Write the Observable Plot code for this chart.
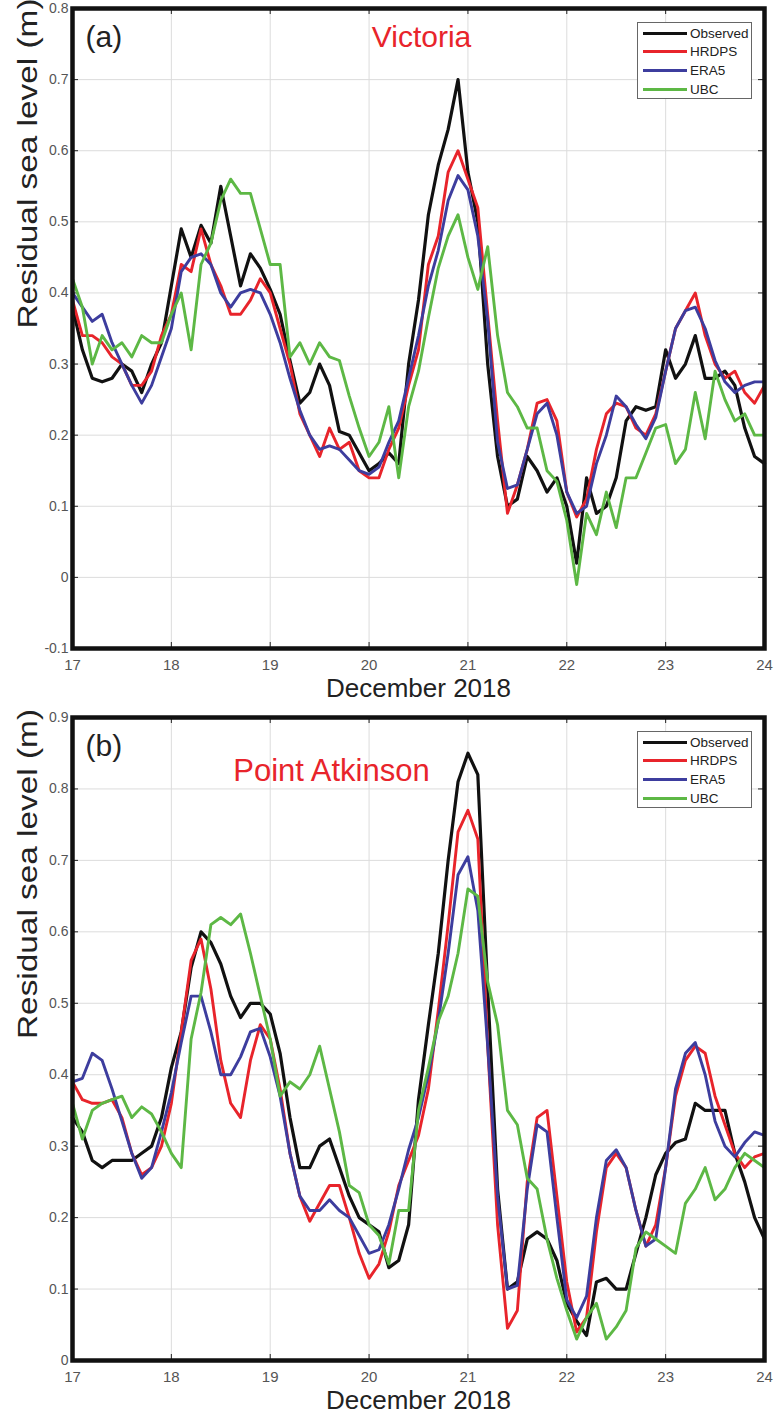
<!DOCTYPE html>
<html>
<head>
<meta charset="utf-8">
<script src="https://cdn.jsdelivr.net/npm/d3@7"></script>
<script src="https://cdn.jsdelivr.net/npm/@observablehq/plot@0.6"></script>
<style>
  html, body { margin: 0; padding: 0; background: #fff; }
  #chart { position: relative; width: 778px; height: 1414px; overflow: hidden; }
  .panel { position: relative; width: 778px; height: 707px; }
  .panel svg { display: block; }
  .legend { position: absolute; left: 637px; width: 115px; box-sizing: border-box;
            border: 1px solid #666; background: #fff; padding-top: 1px;
            font-family: "Liberation Sans Narrow", "Arial Narrow", "Liberation Sans", Arial, sans-serif;
            font-size: 13.5px; color: #222; }
  .legend .row { height: 18.6px; display: flex; align-items: center; }
  .legend .sw { width: 44px; height: 3px; margin-left: 5px; margin-right: 3px; }
</style>
</head>
<body>
<div id="chart"></div>
<script>
// ---------- data ----------
const days = [17.0,17.1,17.2,17.3,17.4,17.5,17.6,17.7,17.8,17.9,
              18.0,18.1,18.2,18.3,18.4,18.5,18.6,18.7,18.8,18.9,
              19.0,19.1,19.2,19.3,19.4,19.5,19.6,19.7,19.8,19.9,
              20.0,20.1,20.2,20.3,20.4,20.5,20.6,20.7,20.8,20.9,
              21.0,21.1,21.2,21.3,21.4,21.5,21.6,21.7,21.8,21.9,
              22.0,22.1,22.2,22.3,22.4,22.5,22.6,22.7,22.8,22.9,
              23.0,23.1,23.2,23.3,23.4,23.5,23.6,23.7,23.8,23.9,
              24.0];

const seriesNames = ["Observed", "HRDPS", "ERA5", "UBC"];
const seriesColors = ["#111111", "#e8242b", "#3d3d9e", "#5db845"];

// (a) Victoria
const victoriaObserved = [0.38,0.32,0.28,0.275,0.28,0.30,0.29,0.26,0.30,0.33,
  0.41,0.49,0.45,0.495,0.47,0.55,0.48,0.41,0.455,0.435,
  0.405,0.37,0.305,0.245,0.26,0.30,0.27,0.205,0.20,0.175,
  0.15,0.16,0.175,0.16,0.30,0.39,0.51,0.58,0.63,0.70,
  0.57,0.50,0.30,0.17,0.10,0.11,0.17,0.15,0.12,0.14,
  0.10,0.02,0.14,0.09,0.10,0.14,0.22,0.24,0.235,0.24,
  0.32,0.28,0.30,0.34,0.28,0.28,0.29,0.27,0.21,0.17,
  0.16];
const victoriaHRDPS = [0.39,0.34,0.34,0.33,0.31,0.30,0.27,0.27,0.29,0.34,
  0.37,0.44,0.43,0.49,0.44,0.41,0.37,0.37,0.39,0.42,
  0.40,0.35,0.30,0.23,0.20,0.17,0.21,0.18,0.19,0.15,
  0.14,0.14,0.18,0.21,0.27,0.32,0.44,0.48,0.57,0.60,
  0.56,0.52,0.37,0.22,0.09,0.13,0.18,0.245,0.25,0.22,
  0.12,0.085,0.11,0.18,0.23,0.245,0.24,0.21,0.20,0.23,
  0.29,0.35,0.375,0.40,0.34,0.30,0.28,0.29,0.26,0.245,
  0.27];
const victoriaERA5 = [0.40,0.38,0.36,0.37,0.33,0.30,0.27,0.245,0.27,0.31,
  0.35,0.43,0.45,0.455,0.44,0.40,0.38,0.40,0.405,0.40,
  0.37,0.33,0.28,0.235,0.20,0.18,0.185,0.18,0.165,0.15,
  0.145,0.155,0.19,0.22,0.28,0.34,0.41,0.46,0.53,0.565,
  0.545,0.48,0.36,0.19,0.125,0.13,0.18,0.23,0.245,0.20,
  0.12,0.09,0.10,0.16,0.20,0.255,0.24,0.215,0.195,0.225,
  0.29,0.35,0.375,0.38,0.35,0.305,0.275,0.26,0.27,0.275,
  0.275];
const victoriaUBC = [0.42,0.38,0.30,0.34,0.32,0.33,0.31,0.34,0.33,0.33,
  0.37,0.40,0.32,0.44,0.47,0.53,0.56,0.54,0.54,0.49,
  0.44,0.44,0.31,0.33,0.30,0.33,0.31,0.305,0.255,0.21,
  0.17,0.19,0.24,0.14,0.24,0.29,0.365,0.435,0.48,0.51,
  0.45,0.405,0.465,0.34,0.26,0.24,0.21,0.21,0.15,0.135,
  0.08,-0.01,0.09,0.06,0.12,0.07,0.14,0.14,0.175,0.21,
  0.215,0.16,0.18,0.26,0.195,0.29,0.25,0.22,0.23,0.20,
  0.20];

// (b) Point Atkinson
const atkinsonObserved = [0.34,0.32,0.28,0.27,0.28,0.28,0.28,0.29,0.30,0.34,
  0.41,0.46,0.55,0.60,0.585,0.555,0.51,0.48,0.50,0.50,
  0.485,0.43,0.34,0.27,0.27,0.30,0.31,0.27,0.23,0.20,
  0.19,0.18,0.13,0.14,0.19,0.365,0.47,0.57,0.70,0.81,
  0.85,0.82,0.52,0.24,0.10,0.11,0.17,0.18,0.17,0.14,
  0.08,0.055,0.035,0.11,0.115,0.10,0.10,0.15,0.20,0.26,
  0.29,0.305,0.31,0.36,0.35,0.35,0.35,0.29,0.25,0.20,
  0.17];
const atkinsonHRDPS = [0.39,0.365,0.36,0.36,0.365,0.34,0.29,0.26,0.27,0.30,
  0.36,0.46,0.56,0.59,0.52,0.42,0.36,0.34,0.42,0.47,
  0.45,0.38,0.29,0.23,0.195,0.22,0.245,0.245,0.20,0.15,
  0.115,0.135,0.18,0.245,0.28,0.315,0.38,0.49,0.61,0.74,
  0.77,0.73,0.44,0.19,0.045,0.07,0.25,0.34,0.35,0.23,
  0.11,0.04,0.06,0.18,0.27,0.29,0.27,0.21,0.16,0.19,
  0.27,0.37,0.42,0.44,0.43,0.37,0.33,0.29,0.27,0.285,
  0.29];
const atkinsonERA5 = [0.39,0.395,0.43,0.42,0.38,0.335,0.29,0.255,0.27,0.32,
  0.375,0.445,0.51,0.51,0.46,0.40,0.40,0.425,0.46,0.465,
  0.425,0.37,0.29,0.23,0.21,0.21,0.225,0.21,0.20,0.175,
  0.15,0.155,0.19,0.24,0.295,0.34,0.40,0.475,0.57,0.68,
  0.705,0.63,0.44,0.23,0.10,0.105,0.24,0.33,0.32,0.20,
  0.085,0.06,0.09,0.20,0.28,0.295,0.27,0.21,0.16,0.17,
  0.27,0.38,0.43,0.445,0.40,0.335,0.30,0.285,0.305,0.32,
  0.315];
const atkinsonUBC = [0.36,0.31,0.35,0.36,0.365,0.37,0.34,0.355,0.345,0.32,
  0.29,0.27,0.45,0.515,0.61,0.62,0.61,0.625,0.57,0.51,
  0.45,0.37,0.39,0.38,0.40,0.44,0.38,0.32,0.245,0.235,
  0.19,0.175,0.135,0.21,0.21,0.35,0.41,0.475,0.51,0.57,
  0.66,0.65,0.53,0.47,0.35,0.33,0.255,0.24,0.17,0.115,
  0.07,0.03,0.06,0.08,0.03,0.047,0.07,0.157,0.18,0.17,
  0.16,0.15,0.22,0.24,0.27,0.225,0.24,0.27,0.29,0.28,
  0.27];

const xTicks = [17, 18, 19, 20, 21, 22, 23, 24];
const yTicksA = [-0.1, 0, 0.1, 0.2, 0.3, 0.4, 0.5, 0.6, 0.7, 0.8];
const yTicksB = [0, 0.1, 0.2, 0.3, 0.4, 0.5, 0.6, 0.7, 0.8, 0.9];
const xLabel = "December 2018";
const yLabel = "Residual sea level (m)";

// ---------- drawing ----------
const fontNarrow = '"Liberation Sans Narrow", "Arial Narrow", "Liberation Sans", Arial, sans-serif';
const fontMain = '"Liberation Sans", Arial, Helvetica, sans-serif';
const W = 778, H = 707, ML = 72, MR = 14;

function drawPanel(cfg) {
  const data = [];
  cfg.series.forEach((vals, i) => vals.forEach((v, j) =>
    data.push({day: days[j], value: v, name: seriesNames[i], order: i})));
  const innerH = H - cfg.mt - cfg.mb;
  const innerW = W - ML - MR;
  const colorOf = Object.fromEntries(seriesNames.map((n, i) => [n, seriesColors[i]]));
  const fmt = d => String(Math.round(d * 10) / 10);

  const svg = Plot.plot({
    width: W, height: H,
    marginLeft: ML, marginRight: MR, marginTop: cfg.mt, marginBottom: cfg.mb,
    x: {domain: [17, 24]},
    y: {domain: cfg.yDomain},
    style: {background: "#fff", fontFamily: fontMain},
    marks: [
      Plot.gridX(xTicks, {stroke: "#dcdcdc", strokeOpacity: 1, strokeWidth: 1}),
      Plot.gridY(cfg.yTicks, {stroke: "#dcdcdc", strokeOpacity: 1, strokeWidth: 1}),
      Plot.tickX(xTicks, {x: d => d, insetTop: innerH - 6, stroke: "#222"}),
      Plot.tickX(xTicks, {x: d => d, insetBottom: innerH - 6, stroke: "#222"}),
      Plot.tickY(cfg.yTicks, {y: d => d, insetRight: innerW - 6, stroke: "#222"}),
      Plot.tickY(cfg.yTicks, {y: d => d, insetLeft: innerW - 6, stroke: "#222"}),
      ...seriesNames.map((n, i) => Plot.line(data.filter(d => d.name === n), {
        x: "day", y: "value", stroke: colorOf[n], strokeWidth: i === 0 ? 3.2 : 2.9,
        strokeLinejoin: "round", curve: "linear"
      })),
      Plot.axisX(xTicks, {anchor: "bottom", tickSize: 0, tickPadding: 11, label: null,
        tickFormat: d => String(d), fontSize: 15, fontFamily: fontNarrow, fill: "#555"}),
      Plot.axisY(cfg.yTicks, {anchor: "left", tickSize: 0, tickPadding: 4, label: null,
        tickFormat: fmt, fontSize: 14, fontFamily: fontNarrow, fill: "#555"}),
      Plot.frame({stroke: "#111", strokeWidth: 4.5}),
      Plot.text([xLabel], {frameAnchor: "bottom", lineAnchor: "bottom", dy: 48,
        text: d => d, fontSize: 26, fill: "#222", fontFamily: fontMain}),
      Plot.text([yLabel], {frameAnchor: "left", rotate: -90, dx: -44,
        text: d => d, fontSize: 27, fill: "#222", fontFamily: fontMain}),
      Plot.text([cfg.letter], {frameAnchor: "top-left", textAnchor: "start", lineAnchor: "bottom",
        dx: 13, dy: 38, text: d => d, fontSize: 30, fill: "#222", fontFamily: fontMain}),
      Plot.text([cfg.title], {frameAnchor: "top", lineAnchor: "bottom",
        dx: cfg.titleDx, dy: cfg.titleDy, text: d => d, fontSize: cfg.titleSize, fill: "#e8242b", fontFamily: fontMain})
    ]
  });

  // stretch the rotated axis title like the (vertically stretched) original
  d3.select(svg).selectAll("text").filter(function() { return this.textContent === yLabel; })
    .attr("textLength", 330).attr("lengthAdjust", "spacingAndGlyphs");

  const wrap = document.createElement("div");
  wrap.className = "panel";
  wrap.appendChild(svg);

  const leg = document.createElement("div");
  leg.className = "legend";
  leg.style.top = cfg.legendTop + "px";
  leg.style.height = "77px";
  seriesNames.forEach((n, i) => {
    const row = document.createElement("div");
    row.className = "row";
    const sw = document.createElement("span");
    sw.className = "sw";
    sw.style.background = seriesColors[i];
    const lab = document.createElement("span");
    lab.textContent = n;
    row.appendChild(sw); row.appendChild(lab);
    leg.appendChild(row);
  });
  wrap.appendChild(leg);
  document.getElementById("chart").appendChild(wrap);
}

drawPanel({
  series: [victoriaObserved, victoriaHRDPS, victoriaERA5, victoriaUBC],
  yDomain: [-0.1, 0.8], yTicks: yTicksA, mt: 8, mb: 59,
  letter: "(a)", title: "Victoria", titleDx: 3, titleDy: 38, titleSize: 30, legendTop: 22
});
drawPanel({
  series: [atkinsonObserved, atkinsonHRDPS, atkinsonERA5, atkinsonUBC],
  yDomain: [0, 0.9], yTicks: yTicksB, mt: 10, mb: 54,
  letter: "(b)", title: "Point Atkinson", titleDx: -87, titleDy: 63, titleSize: 31, legendTop: 24
});
</script>
</body>
</html>
